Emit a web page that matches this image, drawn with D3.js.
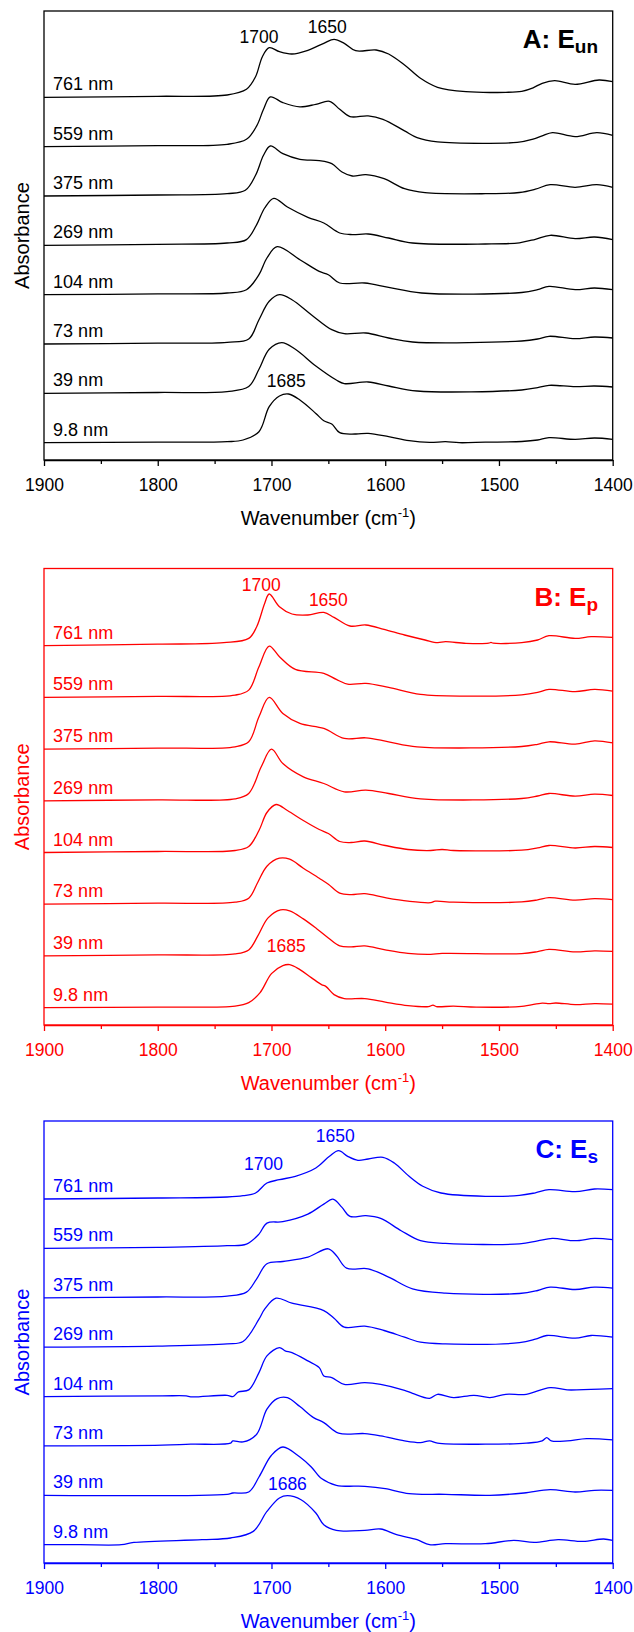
<!DOCTYPE html>
<html>
<head>
<meta charset="utf-8">
<script src="https://cdn.jsdelivr.net/npm/d3@7"></script>
<style>
  body { margin: 0; background: #fff; }
  svg { display: block; font-family: "Liberation Sans", Arial, sans-serif; }
</style>
</head>
<body>
<svg id="chart" width="634" height="1632"></svg>
<script>
// film thickness of each trace, top to bottom
const samples = ['761 nm', '559 nm', '375 nm', '269 nm', '104 nm', '73 nm', '39 nm', '9.8 nm'];
const majorTicks = [1900, 1800, 1700, 1600, 1500, 1400];
const minorTicks = [1850, 1750, 1650, 1550, 1450];

// spectra as [wavenumber, absorbance above the trace offset] (a.u. x100)
const specA = [
  [[1900,0],[1800,1],[1739,2.3],[1722,8],[1714,20.6],[1708,40.6],[1702,49.6],[1693,45.6],[1682,43.3],[1668,47],[1654,54],[1645,58],[1636,54],[1626,46.6],[1608,47.3],[1597,43.3],[1583,32.3],[1569,19],[1554,10],[1529,5.6],[1494,5],[1480,6],[1470,9.5],[1462,14],[1451,16.6],[1433,13],[1412,17.3],[1400,15.6]],
  [[1900,0],[1800,1],[1739,2.3],[1722,7.3],[1713,20.7],[1707,37.3],[1701,49.7],[1690,44],[1675,39.7],[1661,42.3],[1649,45.3],[1640,37.3],[1631,30],[1615,30.7],[1602,27.3],[1583,15.7],[1572,9],[1554,4.7],[1512,3.3],[1484,4.2],[1470,7.5],[1462,10.7],[1453,14],[1433,10],[1414,14],[1400,11.3]],
  [[1900,0],[1800,1],[1739,2.3],[1723,5.7],[1714,20.7],[1707,40.7],[1701,50],[1690,42.3],[1675,36.7],[1658,35.3],[1647,32.3],[1638,24],[1629,20],[1617,21.3],[1601,17.3],[1583,7.3],[1565,3.3],[1512,2.3],[1482,3.5],[1468,6.8],[1455,11.3],[1433,8.7],[1414,11.3],[1400,8.7]],
  [[1900,0],[1800,1],[1739,2.3],[1722,5.7],[1713,20.7],[1706,37.3],[1698,47],[1686,38.3],[1668,28],[1654,22.3],[1640,12.3],[1629,10.7],[1615,11.3],[1597,7.3],[1576,2.3],[1512,1.3],[1482,2.5],[1468,6],[1455,10],[1433,6.7],[1416,8.3],[1400,5.7]],
  [[1900,0],[1800,0.8],[1739,1.7],[1722,5],[1711,20],[1704,36.7],[1695,48],[1675,35],[1658,23.3],[1650,20],[1640,11.7],[1618,11.7],[1597,7.3],[1568,1.7],[1480,2.2],[1466,5],[1456,8.3],[1433,5],[1416,6.7],[1400,5]],
  [[1900,0],[1800,0.8],[1739,1.7],[1720,5],[1711,24.3],[1702,42.7],[1693,49.3],[1682,44.3],[1665,29.3],[1647,14.3],[1636,10.3],[1617,11],[1597,6],[1576,2],[1480,3],[1466,5],[1456,7.7],[1433,5.3],[1416,7],[1400,6]],
  [[1900,0],[1800,0.8],[1739,1.7],[1720,6.7],[1711,24],[1702,44],[1691,50.7],[1679,44],[1661,27.3],[1643,13.3],[1636,9.7],[1615,11.3],[1597,7.3],[1572,2.3],[1480,3.3],[1466,5.7],[1456,8],[1433,6.7],[1416,7.3],[1400,6.3]],
  [[1900,0],[1800,0.5],[1739,1],[1725,2.7],[1711,11],[1702,36],[1693,46.7],[1685,48.7],[1675,42.7],[1661,29.3],[1654,22],[1647,18.7],[1640,10],[1626,8.7],[1615,9.3],[1597,6],[1579,2],[1561,0.3],[1547,1],[1535,0],[1512,0.5],[1480,1.2],[1466,2.7],[1456,5],[1433,3.3],[1416,4.7],[1400,3.3]]
];

const specB = [
  [[1900,0],[1800,1.5],[1742,3],[1720,7.3],[1713,19],[1706,42.3],[1702,51.7],[1693,39],[1682,31.7],[1668,30.7],[1654,33.3],[1645,28.3],[1631,19.7],[1617,20.7],[1601,16.3],[1583,10.7],[1565,5.7],[1554,3],[1547,4],[1529,2.3],[1509,2.5],[1507,3.3],[1505,2.5],[1480,3],[1466,5.7],[1456,10],[1433,7.3],[1419,9],[1400,8.3]],
  [[1900,0],[1800,1],[1732,2.3],[1720,7.3],[1711,30.7],[1702,51.3],[1693,40.7],[1679,28],[1654,24],[1643,18],[1633,13.3],[1617,14],[1597,10],[1569,3],[1529,1.3],[1480,2.5],[1466,5],[1456,8],[1433,5.7],[1416,8],[1400,6.3]],
  [[1900,0],[1800,1],[1732,2.3],[1720,7.3],[1711,32.3],[1702,51.7],[1690,35.7],[1675,25.7],[1654,20.7],[1636,10.7],[1617,11.3],[1597,7.3],[1572,2.3],[1480,2.6],[1466,4.8],[1456,7.3],[1433,5],[1416,8.3],[1400,6.3]],
  [[1900,0],[1800,1],[1732,2],[1720,7.3],[1709,34],[1700,51.7],[1690,37.3],[1672,24],[1654,17.3],[1636,9],[1617,10.7],[1597,7.3],[1569,2],[1480,2.3],[1466,4.8],[1456,7.3],[1433,4.7],[1416,6.7],[1400,5.3]],
  [[1900,0],[1800,1],[1732,2],[1720,6],[1711,22],[1704,40],[1696,48],[1686,42],[1672,32],[1658,23],[1650,19],[1640,11],[1630,10],[1618,11.5],[1600,7],[1580,3],[1560,2],[1550,3],[1540,2],[1480,2.3],[1466,4.6],[1456,7],[1433,4.5],[1416,6],[1400,5]],
  [[1900,0],[1800,1],[1732,2],[1720,6],[1712,22],[1704,38],[1693,46],[1684,45],[1672,36],[1658,26],[1650,20],[1640,11],[1630,9.5],[1618,10.5],[1600,6.5],[1580,3],[1560,1.5],[1556,3],[1540,2],[1480,2.3],[1466,4.3],[1456,6.5],[1433,4],[1416,5.5],[1400,4.5]],
  [[1900,0],[1800,1],[1732,2],[1720,6],[1712,20],[1703,38],[1692,46],[1684,45],[1672,37],[1660,27],[1650,18],[1640,10],[1630,9],[1618,10],[1600,6],[1580,2.5],[1560,1.5],[1550,2.5],[1480,2.3],[1466,4.3],[1456,6.5],[1433,4],[1416,5],[1400,4.5]],
  [[1900,0],[1800,0.5],[1732,1.5],[1720,5],[1710,15],[1700,34],[1690,42],[1684,43],[1675,38],[1665,30],[1656,23],[1652,21],[1645,13],[1636,9],[1618,9],[1600,5.5],[1580,2],[1562,1],[1558,2.5],[1555,1],[1540,1.5],[1520,0.5],[1480,1.2],[1462,4.5],[1456,4],[1450,4.6],[1433,3],[1416,4],[1400,3.5]]
];

const specC = [
  [[1900,0],[1800,1],[1739,2],[1725,3.3],[1714,6],[1704,16],[1693,19.3],[1679,22.7],[1661,31],[1649,42.7],[1641,48.3],[1633,42.7],[1624,38.7],[1615,40],[1602,41.7],[1592,36],[1579,22.7],[1567,12.7],[1551,6],[1512,2.7],[1482,3.6],[1468,6.2],[1456,9.3],[1433,7.3],[1416,10],[1400,9.3]],
  [[1900,0],[1800,1],[1739,2.7],[1722,4.3],[1711,14.3],[1704,25.3],[1690,26.7],[1668,34.3],[1654,44.3],[1646,49.3],[1638,41],[1631,32],[1617,32.7],[1604,30],[1586,17.7],[1569,7.7],[1547,5],[1482,4.5],[1466,7.5],[1453,10],[1433,7.7],[1416,10],[1400,8.7]],
  [[1900,0],[1800,0.8],[1739,1.7],[1722,5.7],[1713,19],[1704,34],[1690,36.3],[1668,40.7],[1650,49],[1643,42.3],[1634,29.7],[1615,29],[1597,20.7],[1576,9],[1547,4.7],[1482,4.3],[1466,7.3],[1455,10.7],[1433,8.3],[1416,10.7],[1400,9.7]],
  [[1900,0],[1800,1],[1739,3.3],[1725,5.7],[1711,28],[1706,38],[1696,49],[1682,44],[1654,36.6],[1645,29],[1636,20],[1618,21],[1601,16.7],[1583,10],[1569,5],[1547,3.3],[1482,4.5],[1468,8],[1458,11.7],[1433,9],[1419,11.7],[1400,10]],
  [[1900,0],[1796,0.7],[1775,0.7],[1771,-0.3],[1739,1.3],[1734,0],[1729,4.7],[1720,6.7],[1711,24],[1704,40.7],[1693,49],[1688,45.7],[1682,44],[1668,35.7],[1658,29],[1654,20.7],[1647,19],[1636,12.3],[1618,14],[1604,12.3],[1583,6.3],[1576,3.3],[1561,-1.7],[1554,2.3],[1540,-1],[1522,1.3],[1508,-1],[1494,2.3],[1476,2.3],[1455,9],[1440,6.7],[1419,7.3],[1400,8]],
  [[1900,0],[1796,0.7],[1771,1.7],[1736,2.7],[1734,5],[1725,4],[1713,11.7],[1704,36.7],[1695,47.3],[1686,48.3],[1675,39.3],[1663,28.3],[1654,23.3],[1641,12.7],[1618,12.3],[1604,10],[1583,5],[1569,3.3],[1561,5],[1554,2.7],[1512,1.7],[1476,2.7],[1462,5],[1458,8.3],[1454,5],[1440,5],[1423,7.3],[1400,6]],
  [[1900,0],[1739,1],[1734,2.3],[1720,3.3],[1711,18.3],[1700,40],[1690,48.3],[1675,38.3],[1665,28.3],[1656,16.7],[1643,10],[1618,9],[1600,6.7],[1579,1.7],[1547,1],[1508,0],[1478,2.3],[1455,5.7],[1433,3.3],[1416,5],[1400,5]],
  [[1900,0],[1868,0],[1832,0],[1821,2.3],[1761,5],[1736,6.7],[1716,13.3],[1704,33.3],[1693,46.7],[1686,49],[1674,45],[1661,31.7],[1654,20],[1643,14.3],[1618,14.3],[1604,15.7],[1590,10],[1572,5],[1561,0],[1547,1],[1512,1],[1487,4.3],[1469,2.3],[1448,5],[1426,3.3],[1408,5.7],[1400,4.3]]
];

// stacking offset of each trace (same units)
const offsetsA = [362.7, 313.4, 264.0, 214.7, 165.3, 116.0, 66.7, 17.3];
const offsetsB = [379.3, 327.6, 275.9, 224.2, 172.5, 120.8, 69.1, 17.4];
const offsetsC = [364.0, 314.6, 265.2, 215.8, 166.4, 117.1, 67.7, 18.3];

// peak annotations: [text, wavenumber, height]
const peaksA = [['1700', 1711, 417], ['1650', 1651, 427], ['1685', 1687, 73]];
const peaksB = [['1700', 1709, 434], ['1650', 1650, 419], ['1685', 1687, 73]];
const peaksC = [['1700', 1707, 393], ['1650', 1644, 421], ['1686', 1686, 73]];

const panels = [
  {title: 'A: E', sub: 'un', color: '#000000', top: 11, bottom: 460, spectra: specA, offsets: offsetsA, peaks: peaksA},
  {title: 'B: E', sub: 'p', color: '#ff0000', top: 568.5, bottom: 1025, spectra: specB, offsets: offsetsB, peaks: peaksB},
  {title: 'C: E', sub: 's', color: '#0000ff', top: 1121, bottom: 1563, spectra: specC, offsets: offsetsC, peaks: peaksC}
];

const left = 44, right = 612.7;
const svg = d3.select('#chart');
svg.append('rect').attr('width', 634).attr('height', 1632).attr('fill', '#fff');

const x = d3.scaleLinear().domain([1900, 1400]).range([left, right]);

panels.forEach(function (p) {
  const g = svg.append('g');
  const y = d3.scaleLinear().domain([0, p.bottom - p.top]).range([p.bottom, p.top]);

  // traces
  p.spectra.forEach(function (spec, i) {
    const line = d3.line()
      .x(d => x(d[0]))
      .y(d => y(p.offsets[i] + d[1]))
      .curve(d3.curveCatmullRom.alpha(0.5));
    g.append('path')
      .datum(spec)
      .attr('d', line)
      .attr('fill', 'none')
      .attr('stroke', p.color)
      .attr('stroke-width', 1.3);

    g.append('text')
      .attr('x', x(1892))
      .attr('y', y(p.offsets[i] + 7))
      .attr('fill', p.color)
      .style('font-size', '18px')
      .text(samples[i]);
  });

  // peak labels
  p.peaks.forEach(function (pk) {
    g.append('text')
      .attr('x', x(pk[1]))
      .attr('y', y(pk[2]))
      .attr('text-anchor', 'middle')
      .attr('fill', p.color)
      .style('font-size', '17.5px')
      .text(pk[0]);
  });

  // frame
  g.append('rect')
    .attr('x', left).attr('y', p.top)
    .attr('width', right - left).attr('height', p.bottom - p.top)
    .attr('fill', 'none')
    .attr('stroke', p.color)
    .attr('stroke-width', 1.3);

  // x axis
  const axis = g.append('g')
    .attr('transform', `translate(0,${p.bottom})`)
    .call(d3.axisBottom(x).tickValues(majorTicks).tickSize(6).tickSizeOuter(0).tickPadding(12.5).tickFormat(d3.format('d')));
  axis.select('.domain').attr('stroke', p.color).attr('stroke-width', 1.3);
  axis.selectAll('.tick line').attr('stroke', p.color).attr('stroke-width', 1.3);
  axis.selectAll('.tick text').attr('fill', p.color).style('font-size', '17.5px')
    .style('font-family', '"Liberation Sans", Arial, sans-serif');

  const minor = g.append('g')
    .attr('transform', `translate(0,${p.bottom})`)
    .call(d3.axisBottom(x).tickValues(minorTicks).tickSize(4).tickSizeOuter(0).tickFormat(''));
  minor.select('.domain').remove();
  minor.selectAll('.tick line').attr('stroke', p.color).attr('stroke-width', 1.3);

  // axis titles
  const xt = g.append('text')
    .attr('x', (left + right) / 2)
    .attr('y', p.bottom + 65)
    .attr('text-anchor', 'middle')
    .attr('fill', p.color)
    .style('font-size', '20px');
  xt.append('tspan').text('Wavenumber (cm');
  xt.append('tspan').attr('dy', -8).style('font-size', '13px').text('-1');
  xt.append('tspan').attr('dy', 8).text(')');

  g.append('text')
    .attr('transform', `translate(29,${(p.top + p.bottom) / 2}) rotate(-90)`)
    .attr('text-anchor', 'middle')
    .attr('fill', p.color)
    .style('font-size', '20px')
    .text('Absorbance');

  // panel title
  const t = g.append('text')
    .attr('x', 598)
    .attr('y', p.top + 37)
    .attr('text-anchor', 'end')
    .attr('fill', p.color)
    .style('font-size', '26px')
    .style('font-weight', 'bold');
  t.append('tspan').text(p.title);
  t.append('tspan').attr('dy', 5).style('font-size', '19px').text(p.sub);
});
</script>
</body>
</html>
